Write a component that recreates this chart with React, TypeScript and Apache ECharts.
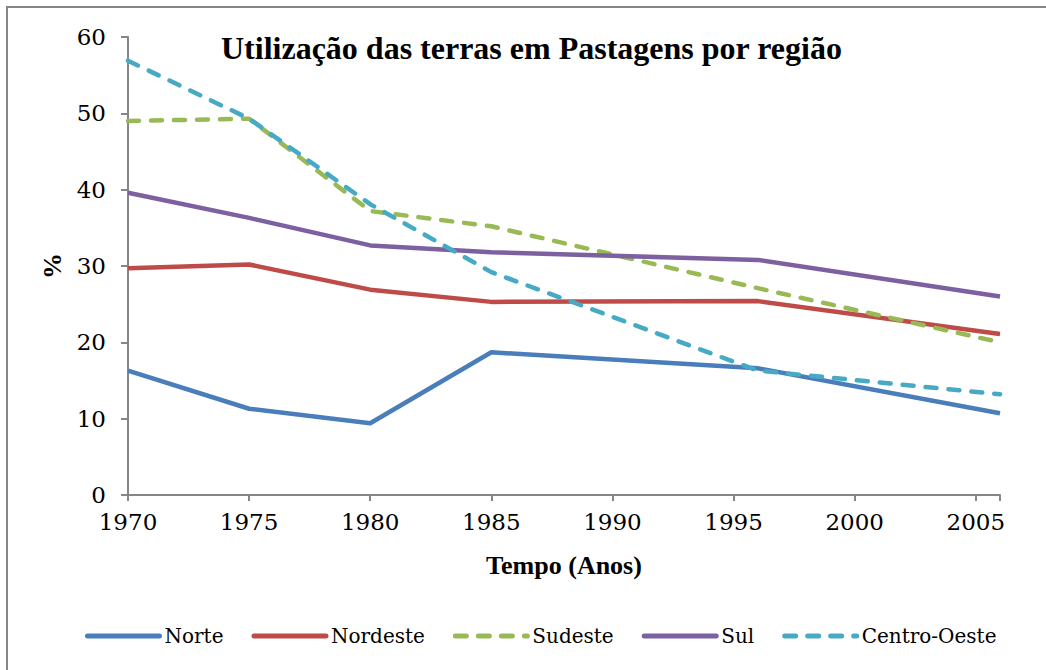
import React, { useEffect, useRef } from "react";
import * as echarts from "echarts";

const years = [1970, 1975, 1980, 1985, 1996, 2006];
const norte = [16.3, 11.3, 9.4, 18.7, 16.6, 10.7];
const nordeste = [29.7, 30.2, 26.9, 25.3, 25.4, 21.1];
const sudeste = [49.0, 49.3, 37.2, 35.2, 27.1, 20.0];
const sul = [39.6, 36.3, 32.7, 31.8, 30.8, 26.0];
const centroOeste = [56.9, 49.3, 38.1, 29.2, 16.3, 13.2];

const seriesNames = ["Norte", "Nordeste", "Sudeste", "Sul", "Centro-Oeste"];
const seriesValues = [norte, nordeste, sudeste, sul, centroOeste];
const seriesColors = ["#4A7EBB", "#BE4B48", "#98B954", "#7D60A0", "#46AAC5"];
const seriesDashed = [false, false, true, false, true];

const BOLD_FONT = "Liberation Serif";
const REG_FONT = "DejaVu Serif";

export default function App() {
  const ref = useRef<HTMLDivElement>(null);
  useEffect(() => {
    if (!ref.current) return;
    const chart = echarts.init(ref.current, undefined, { renderer: "svg" });
    chart.setOption({
      animation: false,
      backgroundColor: "#ffffff",
      textStyle: { fontFamily: REG_FONT },
      title: {
        text: "Utilização das terras em Pastagens por região",
        left: 221,
        top: 32,
        padding: 0,
        textStyle: { fontFamily: BOLD_FONT, fontSize: 32, fontWeight: "bold", color: "#000" },
      },
      graphic: [
        {
          type: "rect",
          shape: { x: 7, y: 7, width: 1100, height: 700 },
          style: { fill: "none", stroke: "#868686", lineWidth: 2 },
          silent: true,
        },
      ],
      legend: {
        left: 85,
        top: 621,
        padding: 0,
        itemWidth: 72,
        itemHeight: 14,
        itemGap: 28,
        itemStyle: { opacity: 0 },
        lineStyle: { width: 5, cap: "round", opacity: 1 },
        textStyle: {
          fontFamily: REG_FONT,
          fontSize: 20,
          color: "#000",
          lineHeight: 30,
        },
        data: seriesNames,
      },
      grid: { left: 128, right: 46, top: 37, bottom: 175, containLabel: false },
      xAxis: {
        type: "value",
        min: 1970,
        max: 2006,
        interval: 5,
        name: "Tempo (Anos)",
        nameLocation: "middle",
        nameGap: 57,
        nameTextStyle: { fontFamily: BOLD_FONT, fontSize: 26, fontWeight: "bold", color: "#000" },
        axisLine: { show: true, lineStyle: { color: "#868686", width: 2 } },
        axisTick: {
          show: true,
          length: 6,
          lineStyle: { color: "#868686", width: 2 },
        },
        splitLine: { show: false },
        axisLabel: {
          fontFamily: REG_FONT,
          fontSize: 23,
          color: "#000",
          margin: 15,
          formatter: (v: number) => (v % 5 === 0 ? String(v) : ""),
        },
      },
      yAxis: {
        type: "value",
        min: 0,
        max: 60,
        interval: 10,
        name: "%",
        nameLocation: "middle",
        nameGap: 61,
        nameRotate: 90,
        nameTextStyle: { fontFamily: BOLD_FONT, fontSize: 26, fontWeight: "bold", color: "#000" },
        axisLine: { show: true, lineStyle: { color: "#868686", width: 2 } },
        axisTick: { show: true, length: 7, lineStyle: { color: "#868686", width: 2 } },
        splitLine: { show: false },
        axisLabel: {
          fontFamily: REG_FONT,
          fontSize: 23,
          color: "#000",
          margin: 22,
        },
      },
      series: seriesNames.map((name, i) => ({
        name,
        type: "line",
        symbol: "none",
        data: years.map((y, j) => [y, seriesValues[i][j]]),
        color: seriesColors[i],
        lineStyle: {
          color: seriesColors[i],
          width: 4.5,
          type: seriesDashed[i] ? [11, 12] : "solid",
          cap: seriesDashed[i] ? "round" : "butt",
          join: "round",
        },
      })),
    });
    return () => chart.dispose();
  }, []);
  return (
    <div
      ref={ref}
      style={{ position: "fixed", left: 0, top: 0, width: 1046, height: 670 }}
    />
  );
}
